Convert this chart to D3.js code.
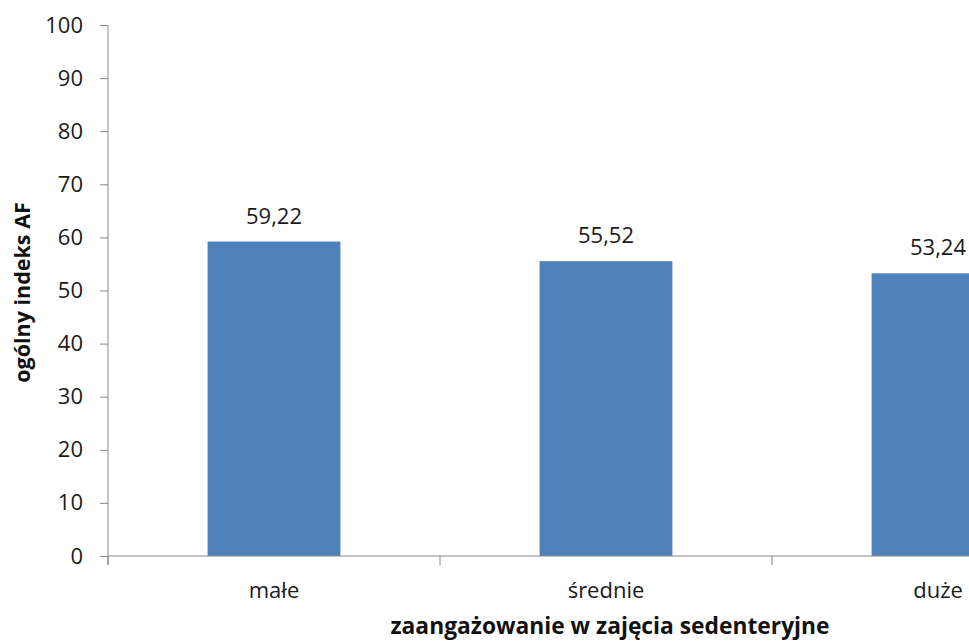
<!DOCTYPE html>
<html>
<head>
<meta charset="utf-8">
<script src="https://cdn.jsdelivr.net/npm/d3@7"></script>
<style>
  body { margin: 0; background: #fff; }
  svg { display: block; }
  svg text { font-family: "Open Sans", sans-serif; }
</style>
</head>
<body>
<div id="chart"></div>
<script>
var categories = ['małe', 'średnie', 'duże'];
var values = [59.22, 55.52, 53.24];
var yTicks = [0, 10, 20, 30, 40, 50, 60, 70, 80, 90, 100];

var width = 969, height = 642;
var plotLeft = 108, plotTop = 25, plotBottom = 556, plotRight = 1104;

var pl = d3.formatLocale({decimal: ',', thousands: ' ', grouping: [3], currency: ['', ' zł']});
var fmt = pl.format('.2f');

var svg = d3.select('#chart').append('svg')
  .attr('width', width)
  .attr('height', height);

var x = d3.scaleBand()
  .domain(categories)
  .range([plotLeft, plotRight])
  .paddingInner(0.6)
  .paddingOuter(0.3);

var y = d3.scaleLinear()
  .domain([0, 100])
  .range([plotBottom, plotTop]);

// y axis
var yAxis = d3.axisLeft(y).tickValues(yTicks).tickSize(8).tickPadding(17);
var gy = svg.append('g')
  .attr('transform', 'translate(' + plotLeft + ',0)')
  .call(yAxis)
  .attr('font-family', null)
  .attr('font-size', null);
gy.select('.domain').remove();
gy.selectAll('.tick line').attr('stroke', '#888');
gy.selectAll('text').style('font-size', '22px').attr('fill', '#1a1a1a');
gy.append('line')
  .attr('x1', 0).attr('x2', 0)
  .attr('y1', plotTop).attr('y2', plotBottom + 9)
  .attr('stroke', '#888');

// bars
svg.selectAll('.bar')
  .data(values)
  .enter()
  .append('rect')
  .attr('class', 'bar')
  .attr('x', function (d, i) { return x(categories[i]); })
  .attr('y', function (d) { return y(d); })
  .attr('width', x.bandwidth())
  .attr('height', function (d) { return y(0) - y(d); })
  .attr('fill', '#4f81bd');

// x axis line + boundary ticks
svg.append('line')
  .attr('x1', plotLeft).attr('x2', plotRight)
  .attr('y1', plotBottom).attr('y2', plotBottom)
  .attr('stroke', '#888');

var gap = (x.step() - x.bandwidth()) / 2;
svg.selectAll('.ctick')
  .data(categories)
  .enter()
  .append('line')
  .attr('class', 'ctick')
  .attr('x1', function (d) { return x(d) - gap; })
  .attr('x2', function (d) { return x(d) - gap; })
  .attr('y1', plotBottom).attr('y2', plotBottom + 9)
  .attr('stroke', '#888');

// category labels
svg.selectAll('.clabel')
  .data(categories)
  .enter()
  .append('text')
  .attr('class', 'clabel')
  .attr('x', function (d) { return x(d) + x.bandwidth() / 2; })
  .attr('y', 598)
  .attr('text-anchor', 'middle')
  .style('font-size', '22px')
  .attr('fill', '#1a1a1a')
  .text(function (d) { return d; });

// value labels
svg.selectAll('.vlabel')
  .data(values)
  .enter()
  .append('text')
  .attr('class', 'vlabel')
  .attr('x', function (d, i) { return x(categories[i]) + x.bandwidth() / 2; })
  .attr('y', function (d) { return y(d) - 18; })
  .attr('text-anchor', 'middle')
  .style('font-size', '22px')
  .attr('fill', '#1a1a1a')
  .text(function (d) { return fmt(d); });

// axis titles
svg.append('text')
  .attr('transform', 'translate(30,' + ((plotTop + plotBottom) / 2 + 2) + ') rotate(-90)')
  .attr('text-anchor', 'middle')
  .style('font-size', '21.5px')
  .style('font-weight', 'bold')
  .attr('fill', '#111')
  .text('ogólny indeks AF');

svg.append('text')
  .attr('x', 610)
  .attr('y', 634)
  .attr('text-anchor', 'middle')
  .style('font-size', '22.8px')
  .style('font-weight', 'bold')
  .attr('fill', '#111')
  .text('zaangażowanie w zajęcia sedenteryjne');
</script>
</body>
</html>
